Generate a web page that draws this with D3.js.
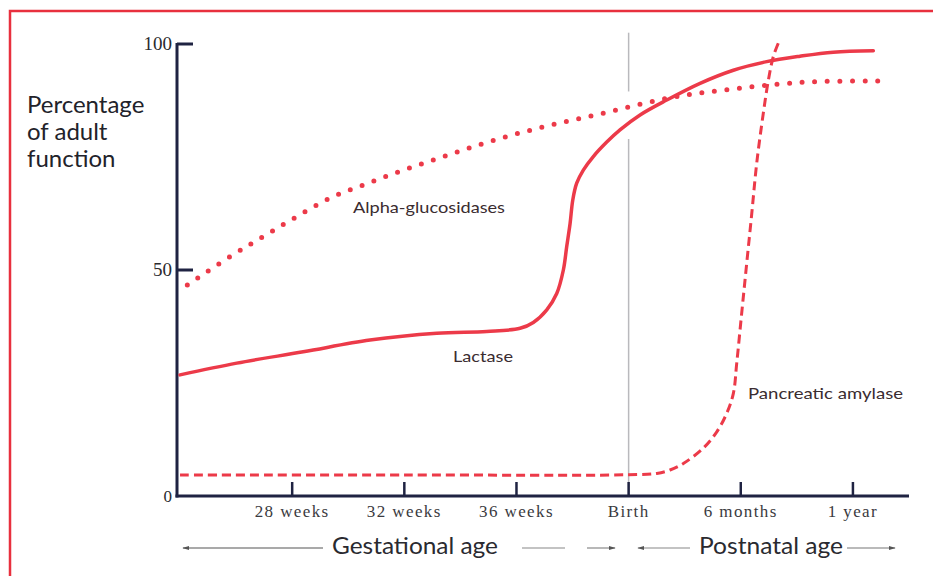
<!DOCTYPE html>
<html>
<head>
<meta charset="utf-8">
<script src="https://cdn.jsdelivr.net/npm/d3@7"></script>
<style>
  html, body { margin: 0; padding: 0; background: #fff; }
  svg { display: block; }
</style>
</head>
<body>
<div id="chart"></div>
<script>
// ---- Data (x in tick units: 0 = axis origin, 1 = 28 weeks ... 4 = Birth ... 6 = 1 year) ----
const tickLabels = ["28 weeks", "32 weeks", "36 weeks", "Birth", "6 months", "1 year"];
const tickPositions = [1, 2, 3, 4, 5, 6];
const yTicks = [0, 50, 100];

const alphaX = [0.065, 0.449, 0.749, 1.034, 1.346, 1.667, 2.004, 2.336, 2.666, 2.996, 3.332, 3.671, 4.006, 4.345, 4.679, 5.023, 5.365, 5.709, 6.286];
const alphaY = [46.7, 53.0, 57.5, 61.7, 66.0, 69.1, 72.2, 75.0, 77.7, 80.1, 82.2, 84.1, 86.1, 88.0, 89.3, 90.3, 91.2, 91.7, 91.8];

const lactaseX = [0, 0.506, 1.099, 1.694, 2.289, 2.735, 3.032, 3.150, 3.270, 3.359, 3.418, 3.448, 3.478, 3.502, 3.537, 3.596, 3.685, 3.805, 3.923, 4.102, 4.340, 4.637, 4.934, 5.231, 5.528, 5.825, 6.182];
const lactaseY = [26.8, 29.4, 31.9, 34.5, 36.0, 36.4, 37.1, 38.4, 41.2, 44.8, 50.0, 55.2, 60.3, 65.5, 69.2, 72.1, 75.1, 78.3, 81.0, 84.3, 87.6, 91.3, 94.2, 96.1, 97.3, 98.2, 98.5];

const amylaseX = [0, 2.0, 4.0, 4.251, 4.369, 4.488, 4.666, 4.786, 4.875, 4.934, 4.964, 5.008, 5.053, 5.098, 5.142, 5.201, 5.246, 5.290, 5.335];
const amylaseY = [4.65, 4.65, 4.7, 5.0, 5.75, 7.2, 10.6, 14.2, 18.3, 22.7, 29.4, 40.4, 51.5, 62.5, 73.6, 84.7, 92.0, 97.2, 100.2];

const seriesNames = ["Alpha-glucosidases", "Lactase", "Pancreatic amylase"];
const yLabelLines = ["Percentage", "of adult", "function"];
const birthLine = { x: 4, top: 102.5, gapTop: 89.5, gapBottom: 79.0, bottom: 0 };

// ---- Layout ----
const W = 933, H = 576;
const red = "#ec3a49";
const axisColor = "#1f2342";
const textColor = "#2a2a2e";

const svg = d3.select("#chart").append("svg").attr("width", W).attr("height", H);

const x = d3.scaleLinear().domain([-0.027, 6.5]).range([177, 909]);
const y = d3.scaleLinear().domain([0, 100]).range([496, 44]);

// frame (red border, top and left visible)
svg.append("rect").attr("x", 10).attr("y", 11).attr("width", W + 20).attr("height", H + 20)
  .attr("fill", "none").attr("stroke", "#e8303e").attr("stroke-width", 2.5);

// Birth reference line
const bl = svg.append("g").attr("stroke", "#b9b9bd").attr("stroke-width", 1.5);
bl.append("line").attr("x1", x(birthLine.x)).attr("x2", x(birthLine.x))
  .attr("y1", y(birthLine.top)).attr("y2", y(birthLine.gapTop));
bl.append("line").attr("x1", x(birthLine.x)).attr("x2", x(birthLine.x))
  .attr("y1", y(birthLine.gapBottom)).attr("y2", y(birthLine.bottom));

// Axes
const axisG = svg.append("g");
axisG.append("line").attr("x1", x.range()[0]).attr("x2", x.range()[0])
  .attr("y1", y(100) - 1).attr("y2", y(0) + 1.5)
  .attr("stroke", axisColor).attr("stroke-width", 3);
axisG.append("line").attr("x1", x.range()[0] - 1.5).attr("x2", x.range()[1])
  .attr("y1", y(0)).attr("y2", y(0))
  .attr("stroke", axisColor).attr("stroke-width", 3);

// y ticks (pointing inward) + labels
yTicks.forEach(t => {
  if (t > 0) {
    axisG.append("line").attr("x1", x.range()[0]).attr("x2", x.range()[0] + 16)
      .attr("y1", y(t)).attr("y2", y(t)).attr("stroke", axisColor).attr("stroke-width", 3);
  }
  axisG.append("text").attr("x", x.range()[0] - 5).attr("y", y(t) + 6)
    .attr("text-anchor", "end")
    .attr("font-family", "'Liberation Serif', 'DejaVu Serif', serif")
    .attr("font-size", t === 0 ? 17 : 19).attr("fill", textColor).text(t);
});

// x ticks (pointing up) + labels
tickPositions.forEach((p, i) => {
  axisG.append("line").attr("x1", x(p)).attr("x2", x(p))
    .attr("y1", y(0)).attr("y2", y(0) - 14).attr("stroke", axisColor).attr("stroke-width", 2.5);
  axisG.append("text").attr("x", x(p)).attr("y", 517)
    .attr("text-anchor", "middle")
    .attr("font-family", "'Liberation Serif', 'DejaVu Serif', serif")
    .attr("font-size", 17).attr("letter-spacing", 1.4).attr("fill", "#3a3a40")
    .text(tickLabels[i]);
});

// y axis title
yLabelLines.forEach((s, i) => {
  svg.append("text").attr("x", 27).attr("y", 113 + i * 27)
    .attr("font-family", "Lato, 'Open Sans', sans-serif")
    .attr("font-size", 24).attr("fill", "#22222a").text(s);
});

// Curves
const line = d3.line().x(d => x(d[0])).y(d => y(d[1])).curve(d3.curveCatmullRom.alpha(0.5));
const zip = (a, b) => a.map((v, i) => [v, b[i]]);

svg.append("path").datum(zip(lactaseX, lactaseY)).attr("d", line)
  .attr("fill", "none").attr("stroke", red).attr("stroke-width", 3.5).attr("stroke-linecap", "round");

svg.append("path").datum(zip(amylaseX, amylaseY)).attr("d", line)
  .attr("fill", "none").attr("stroke", red).attr("stroke-width", 3)
  .attr("stroke-dasharray", "9 5");

svg.append("path").datum(zip(alphaX, alphaY)).attr("d", line)
  .attr("fill", "none").attr("stroke", red).attr("stroke-width", 5)
  .attr("stroke-linecap", "round").attr("stroke-dasharray", "0 12.6");

// Curve labels
const labelFont = "Lato, 'Open Sans', sans-serif";
const curveLabels = [
  { text: seriesNames[0], x: 353, y: 213, len: 152 },
  { text: seriesNames[1], x: 453, y: 362, len: 60 },
  { text: seriesNames[2], x: 748, y: 399, len: 155 }
];
curveLabels.forEach(l => {
  svg.append("text").attr("x", l.x).attr("y", l.y)
    .attr("font-family", labelFont).attr("font-size", 15)
    .attr("fill", "#3a2c30")
    .attr("textLength", l.len).attr("lengthAdjust", "spacingAndGlyphs")
    .text(l.text);
});

// Bottom age labels with arrows
const defs = svg.append("defs");
defs.append("marker").attr("id", "ah").attr("viewBox", "0 0 10 10")
  .attr("refX", 9).attr("refY", 5).attr("markerWidth", 6).attr("markerHeight", 6)
  .attr("orient", "auto-start-reverse")
  .append("path").attr("d", "M0,2 L10,5 L0,8 Z").attr("fill", "#555");

const arrowY = 548;
const arrows = [
  { x1: 323, x2: 183, col: "#555" },
  { x1: 522, x2: 565, col: "#888", noHead: true },
  { x1: 587, x2: 615, col: "#888" },
  { x1: 690, x2: 638, col: "#888" },
  { x1: 847, x2: 895, col: "#777" }
];
arrows.forEach(a => {
  const l = svg.append("line").attr("x1", a.x1).attr("x2", a.x2).attr("y1", arrowY).attr("y2", arrowY)
    .attr("stroke", a.col).attr("stroke-width", 1.2);
  if (!a.noHead) l.attr("marker-end", "url(#ah)");
});

svg.append("text").attr("x", 332).attr("y", 554)
  .attr("font-family", labelFont).attr("font-size", 23).attr("fill", "#2a2a30")
  .attr("textLength", 166).attr("lengthAdjust", "spacingAndGlyphs").text("Gestational age");
svg.append("text").attr("x", 699).attr("y", 554)
  .attr("font-family", labelFont).attr("font-size", 23).attr("fill", "#2a2a30")
  .attr("textLength", 144).attr("lengthAdjust", "spacingAndGlyphs").text("Postnatal age");
</script>
</body>
</html>
